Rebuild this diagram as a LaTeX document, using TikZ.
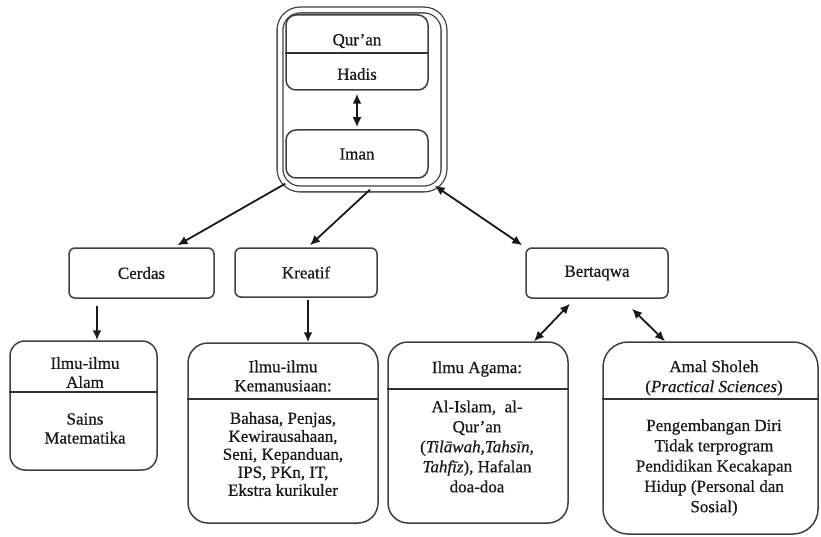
\documentclass[tikz,border=0pt]{standalone}
\usepackage{fontspec}
\setmainfont[FakeBold=0.6]{Liberation Serif}
\usetikzlibrary{arrows.meta}
\begin{document}
\begin{tikzpicture}[x=1pt,y=-1pt,
  box/.style={draw=black!75, line width=1.5pt, rounded corners=#1, inner sep=0pt,
    align=center, font=\fontsize{17}{19}\selectfont, text=black!90},
  txt/.style={align=center, inner sep=0pt, font=\fontsize{17}{19}\selectfont, text=black!90},
  divider/.style={draw=black!80, line width=1.8pt},
  arr/.style={-{Latex[length=10pt,width=9pt]}, line width=1.8pt, draw=black!90},
  darr/.style={{Latex[length=10pt,width=9pt]}-{Latex[length=10pt,width=9pt]}, line width=1.8pt, draw=black!90}]
\useasboundingbox (0,0) rectangle (821,537);
\fill[white] (0,0) rectangle (821,537);

% top group
\node[draw=black!75, double, double distance=4.5pt, line width=1.3pt, rounded corners=20pt,
  minimum width=164pt, minimum height=179pt, inner sep=0pt] (top) at (362,99.5) {};
\node[box=10pt, minimum width=142pt, minimum height=75pt] (qh) at (357,52.5) {};
\coordinate (qhdiv) at (0,53);
\draw[divider] (qh.west |- qhdiv) -- (qh.east |- qhdiv);
\node[txt] (quran) at (357,41) {Qur’an};
\node[txt] (hadis) at (357,74) {Hadis};
\node[box=10pt, minimum width=142pt, minimum height=48pt] (iman) at (357,154) {Iman};
\draw[darr, shorten <=3pt, shorten >=2pt] (qh.south) -- (iman.north);

% middle row
\node[box=6pt, minimum width=145pt, minimum height=50pt] (cerdas) at (141.5,273) {Cerdas};
\node[box=6pt, minimum width=142pt, minimum height=49pt] (kreatif) at (306,272.5) {Kreatif};
\node[box=6pt, minimum width=142pt, minimum height=50pt] (bert) at (597,273) {Bertaqwa};

\draw[arr] ([shift={(6,-6)}]top.south west) -- ([shift={(36,-2)}]cerdas.north);
\draw[arr] ([xshift=8pt]top.south) -- ([shift={(4,-2)}]kreatif.north);
\draw[darr] ([shift={(-10,-4)}]top.south east) -- ([shift={(-3,-2)}]bert.north west);

% bottom row
\node[box=15pt, minimum width=147pt, minimum height=129pt] (alam) at (83.5,405.5) {};
\coordinate (alamdiv) at (0,392);
\draw[divider] (alam.west |- alamdiv) -- (alam.east |- alamdiv);
\node[txt] (alamh) at (85,372.5) {Ilmu-ilmu\\Alam};
\node[txt] (alamb) at (85,428.5) {Sains\\Matematika};

\node[box=20pt, minimum width=190pt, minimum height=180pt] (kem) at (283,433) {};
\coordinate (kemdiv) at (0,399);
\draw[divider] (kem.west |- kemdiv) -- (kem.east |- kemdiv);
\node[txt] (kemh) at (283,376) {Ilmu-ilmu\\Kemanusiaan:};
\node[txt, font=\fontsize{17}{18}\selectfont] (kemb) at (283,454) {Bahasa, Penjas,\\Kewirausahaan,\\Seni, Kepanduan,\\IPS, PKn, IT,\\Ekstra kurikuler};

\node[box=20pt, minimum width=180pt, minimum height=181pt] (agama) at (478,432.5) {};
\coordinate (agamadiv) at (0,389);
\draw[divider] (agama.west |- agamadiv) -- (agama.east |- agamadiv);
\node[txt] (agamah) at (477,369) {Ilmu Agama:};
\node[txt, font=\fontsize{17}{20}\selectfont] (agamab) at (477,446.5) {Al-Islam, \ al-\\Qur’an\\(\textit{Tilāwah,Tahsīn,}\\\textit{Tahfīz}), Hafalan\\doa-doa};

\node[box=25pt, minimum width=215pt, minimum height=192pt] (amal) at (710.5,438) {};
\coordinate (amaldiv) at (0,399);
\draw[divider] (amal.west |- amaldiv) -- (amal.east |- amaldiv);
\node[txt, font=\fontsize{17}{20}\selectfont] (amalh) at (714,378) {Amal Sholeh\\(\textit{Practical Sciences})};
\node[txt, font=\fontsize{17}{20.3}\selectfont] (amalb) at (714,467.5) {Pengembangan Diri\\Tidak terprogram\\Pendidikan Kecakapan\\Hidup (Personal dan\\Sosial)};

% lower arrows
\draw[arr] ([shift={(-44.5,7)}]cerdas.south) -- ([xshift=13.5pt]alam.north);
\draw[arr] ([shift={(2,2)}]kreatif.south) -- ([xshift=25pt]kem.north);
\draw[darr] ([shift={(-27,5)}]bert.south) -- ([xshift=56pt]agama.north);
\draw[darr] ([shift={(35,10)}]bert.south) -- ([xshift=-45.5pt]amal.north);
\end{tikzpicture}
\end{document}
